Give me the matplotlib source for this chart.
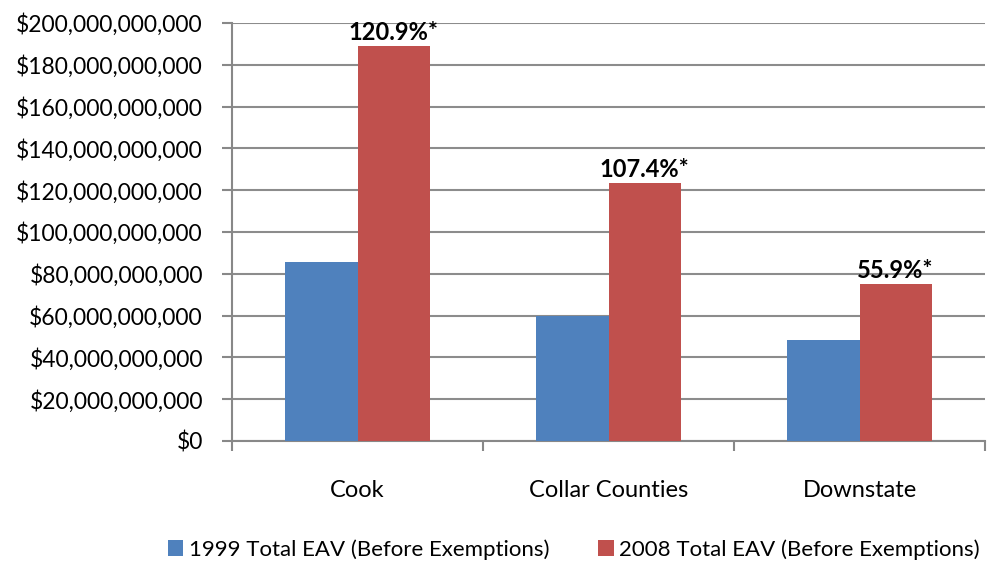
import numpy as np
import matplotlib.pyplot as plt
from matplotlib.ticker import FuncFormatter, FixedLocator

categories = ['Cook', 'Collar Counties', 'Downstate']
eav_1999 = [85.5e9, 59.8e9, 48.3e9]
eav_2008 = [189.0e9, 123.4e9, 75.0e9]
pct_labels = ['120.9%*', '107.4%*', '55.9%*']
series_names = ['1999 Total EAV (Before Exemptions)', '2008 Total EAV (Before Exemptions)']

plt.rcParams['font.family'] = ['Lato', 'DejaVu Sans']

fig = plt.figure(figsize=(9.97, 5.63), dpi=100)
ax = fig.add_axes([232 / 997, 1 - 441 / 563, 753 / 997, 418 / 563])

x = np.arange(len(categories))
w = 0.287
blue = '#4f81bd'
red = '#c0504d'
ax.bar(x - w / 2, eav_1999, w, color=blue, label=series_names[0], zorder=3)
ax.bar(x + w / 2, eav_2008, w, color=red, label=series_names[1], zorder=3)

for xi, v, t in zip(x, eav_2008, pct_labels):
    ax.text(xi + w / 2, v + 1.0e9, t, ha='center', va='bottom',
            fontsize=17, fontweight='bold', color='black')

ax.set_xlim(-0.5, len(categories) - 0.5)
ax.set_ylim(0, 200e9)
ax.set_yticks(np.arange(0, 200e9 + 1, 20e9))
ax.yaxis.set_major_formatter(FuncFormatter(lambda v, p: '${:,.0f}'.format(v)))
ax.set_xticks(x)
ax.set_xticklabels(categories)
ax.xaxis.set_minor_locator(FixedLocator(np.arange(-0.5, len(categories), 1)))
ax.tick_params(axis='x', which='major', length=0, pad=28, labelsize=17)
ax.tick_params(axis='x', which='minor', length=7, width=1.5, color='#888888')
ax.tick_params(axis='y', length=7, width=1.5, color='#888888', labelsize=16.5, pad=14)

ax.grid(axis='y', color='#8c8c8c', linewidth=1.5, zorder=0)
for s in ['top', 'right']:
    ax.spines[s].set_visible(False)
for s in ['left', 'bottom']:
    ax.spines[s].set_color('#888888')
    ax.spines[s].set_linewidth(1.5)

ax.legend(loc='center', bbox_to_anchor=((574 - 232) / 753, -0.26),
          ncol=2, frameon=False, fontsize=16, handlelength=0.7, handleheight=0.7,
          handletextpad=0.25, columnspacing=2.2)

fig.savefig('out.png', dpi=100)
